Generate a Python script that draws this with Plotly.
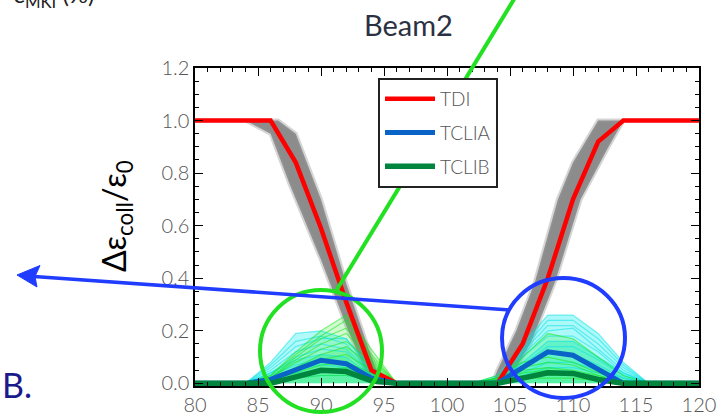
import plotly.graph_objects as go

# ---------------- data ----------------
x_grid = [80, 82, 84, 86, 88, 90, 92, 94, 96, 98, 100, 102, 104, 106, 108, 110, 112, 114, 116, 118, 120]
tdi   = [1, 1, 1, 1, 0.84, 0.59, 0.31, 0.05, 0, 0, 0, 0, 0, 0.15, 0.40, 0.70, 0.92, 1, 1, 1, 1]
tclia = [0, 0, 0, 0.015, 0.05, 0.088, 0.075, 0.02, 0, 0, 0, 0, 0, 0.06, 0.12, 0.107, 0.054, 0, 0, 0, 0]
tclib = [0, 0, 0, 0, 0.025, 0.05, 0.045, 0.01, 0, 0, 0, 0, 0, 0.02, 0.04, 0.038, 0.015, 0, 0, 0, 0]

# grey band of TDI simulations (envelope edges)
band_left_upper_x = [80, 86, 86.6, 88, 90, 92, 94, 94.8]
band_left_upper_y = [1.0, 1.0, 1.0, 0.95, 0.70, 0.38, 0.10, 0.0]
band_left_lower_x = [80, 84, 86, 87.5, 90, 92, 93.5, 94.5]
band_left_lower_y = [1.0, 1.0, 0.95, 0.76, 0.47, 0.22, 0.05, 0.0]
band_right_upper_x = [103.6, 104, 105.5, 107, 108.8, 110, 112, 120]
band_right_upper_y = [0.0, 0.05, 0.20, 0.39, 0.70, 0.84, 1.0, 1.0]
band_right_lower_x = [104.8, 106.7, 108.6, 110.6, 112.7, 114, 120]
band_right_lower_y = [0.0, 0.16, 0.39, 0.70, 0.89, 1.0, 1.0]

# thin simulation lines (left hump)
hump_left_x = [84, 86, 88, 90, 92, 94, 96]
cyan_left = [
    [0, 0.08, 0.19, 0.20, 0.17, 0.05, 0],
    [0, 0.07, 0.16, 0.18, 0.15, 0.04, 0],
    [0, 0.06, 0.14, 0.17, 0.17, 0.06, 0],
    [0, 0.05, 0.12, 0.15, 0.13, 0.04, 0],
    [0, 0.04, 0.10, 0.13, 0.12, 0.03, 0],
    [0, 0.04, 0.09, 0.11, 0.10, 0.03, 0],
    [0, 0.03, 0.07, 0.09, 0.08, 0.02, 0],
    [0, 0.02, 0.05, 0.07, 0.06, 0.02, 0],
    [0, 0.02, 0.04, 0.05, 0.04, 0.01, 0],
    [0, 0.01, 0.02, 0.03, 0.03, 0.01, 0],
]
green_left = [
    [0, 0.03, 0.12, 0.20, 0.26, 0.13, 0],
    [0, 0.03, 0.11, 0.18, 0.24, 0.11, 0],
    [0, 0.02, 0.10, 0.17, 0.21, 0.10, 0],
    [0, 0.02, 0.09, 0.15, 0.19, 0.09, 0],
    [0, 0.02, 0.08, 0.13, 0.16, 0.08, 0],
    [0, 0.01, 0.06, 0.11, 0.14, 0.07, 0],
    [0, 0.01, 0.05, 0.09, 0.11, 0.05, 0],
    [0, 0.01, 0.04, 0.07, 0.08, 0.04, 0],
    [0, 0.00, 0.03, 0.05, 0.06, 0.03, 0],
    [0, 0.00, 0.02, 0.03, 0.03, 0.02, 0],
]
# thin simulation lines (right hump)
hump_right_x = [102, 104, 106, 108, 110, 112, 114, 116]
cyan_right = [
    [0, 0.03, 0.15, 0.26, 0.26, 0.19, 0.08, 0],
    [0, 0.02, 0.13, 0.24, 0.24, 0.17, 0.07, 0],
    [0, 0.02, 0.12, 0.22, 0.22, 0.15, 0.06, 0],
    [0, 0.02, 0.11, 0.20, 0.21, 0.13, 0.05, 0],
    [0, 0.01, 0.10, 0.18, 0.18, 0.12, 0.04, 0],
    [0, 0.01, 0.08, 0.16, 0.16, 0.10, 0.04, 0],
    [0, 0.01, 0.07, 0.14, 0.14, 0.09, 0.03, 0],
    [0, 0.01, 0.06, 0.11, 0.11, 0.07, 0.02, 0],
    [0, 0.00, 0.04, 0.08, 0.08, 0.05, 0.02, 0],
    [0, 0.00, 0.03, 0.06, 0.06, 0.04, 0.01, 0],
]
green_right = [
    [0, 0.02, 0.10, 0.19, 0.17, 0.10, 0.03, 0],
    [0, 0.03, 0.08, 0.10, 0.08, 0.04, 0.01, 0],
    [0, 0.02, 0.06, 0.08, 0.07, 0.03, 0.01, 0],
    [0, 0.02, 0.05, 0.06, 0.05, 0.03, 0.00, 0],
    [0, 0.01, 0.04, 0.05, 0.04, 0.02, 0.00, 0],
    [0, 0.01, 0.03, 0.03, 0.03, 0.01, 0.00, 0],
    [0, 0.00, 0.02, 0.02, 0.02, 0.01, 0.00, 0],
]

legend_names = ["TDI", "TCLIA", "TCLIB"]
x_ticks = [80, 85, 90, 95, 100, 105, 110, 115, 120]
y_ticks = [0.0, 0.2, 0.4, 0.6, 0.8, 1.0, 1.2]

# ---------------- layout geometry (pixels) ----------------
W, H = 726, 420
L, R, T, B = 195, 27, 68, 34
PW, PH = W - L - R, H - T - B


def px(xp):
    return (xp - L) / PW


def py(yp):
    return (H - B - yp) / PH


FONT = "Lato"
GREY_TXT = "#555555"

fig = go.Figure()

# grey bands
for ux, uy, lx, ly in [
    (band_left_upper_x, band_left_upper_y, band_left_lower_x, band_left_lower_y),
    (band_right_upper_x, band_right_upper_y, band_right_lower_x, band_right_lower_y),
]:
    fig.add_trace(go.Scatter(
        x=ux + lx[::-1], y=uy + ly[::-1], fill="toself", mode="lines",
        fillcolor="rgba(128,128,128,0.9)", line=dict(color="rgba(150,150,150,0.4)", width=4),
        showlegend=False, hoverinfo="skip"))

# density fill under the thin lines
for hx, rows, col in [
    (hump_left_x, cyan_left, "rgba(0,235,235,0.30)"),
    (hump_left_x, green_left, "rgba(40,235,40,0.22)"),
    (hump_right_x, cyan_right, "rgba(0,235,235,0.32)"),
    (hump_right_x, green_right, "rgba(40,235,40,0.22)"),
]:
    fig.add_trace(go.Scatter(x=hx, y=rows[0], fill="tozeroy", mode="none",
                             fillcolor=col, showlegend=False, hoverinfo="skip"))
    fig.add_trace(go.Scatter(x=hx, y=rows[len(rows) // 2], fill="tozeroy", mode="none",
                             fillcolor=col, showlegend=False, hoverinfo="skip"))

for hx, rows, col in [
    (hump_left_x, cyan_left, "rgba(0,225,230,0.5)"),
    (hump_left_x, green_left, "rgba(20,230,20,0.5)"),
    (hump_right_x, cyan_right, "rgba(0,225,230,0.5)"),
    (hump_right_x, green_right, "rgba(20,230,20,0.55)"),
]:
    for r in rows:
        fig.add_trace(go.Scatter(x=hx, y=r, mode="lines", line=dict(color=col, width=1.2),
                                 showlegend=False, hoverinfo="skip"))

# main curves
fig.add_trace(go.Scatter(x=x_grid, y=tdi, mode="lines", name=legend_names[0],
                         line=dict(color="#ff0000", width=4.5), legendgroup="a"))
fig.add_trace(go.Scatter(x=x_grid, y=tclia, mode="lines", name=legend_names[1],
                         line=dict(color="#0a64c8", width=5), legendgroup="b"))
fig.add_trace(go.Scatter(x=x_grid, y=tclib, mode="lines", name=legend_names[2],
                         line=dict(color="#00853f", width=5.5), legendgroup="c"))

axis_common = dict(showline=True, linecolor="black", linewidth=1.5, mirror="allticks",
                   ticks="inside", tickcolor="black", ticklen=8, tickwidth=1.3,
                   showgrid=False, zeroline=False, automargin=False,
                   tickfont=dict(family=FONT, size=20, color=GREY_TXT, weight=300))

fig.update_xaxes(range=[80, 120], tickvals=x_ticks, ticktext=[str(v) for v in x_ticks],
                 minor=dict(dtick=1, ticks="inside", ticklen=4, tickcolor="black", tickwidth=1.1),
                 **axis_common)
fig.update_yaxes(range=[-0.01, 1.2], tickvals=y_ticks, ticktext=[f"{v:.1f}" for v in y_ticks],
                 minor=dict(dtick=0.05, tick0=0, ticks="inside", ticklen=4, tickcolor="black", tickwidth=1.1),
                 **axis_common)

GREEN = "#22e022"
BLUE = "#1f3cff"
shapes = [
    # green circle + pointer line
    dict(type="circle", xref="paper", yref="paper", x0=px(260), x1=px(382), y0=py(412), y1=py(290),
         line=dict(color=GREEN, width=4)),
    dict(type="line", xref="paper", yref="paper", x0=px(336), y0=py(291), x1=px(516), y1=py(-4),
         line=dict(color=GREEN, width=4)),
    # blue circle + arrow
    dict(type="circle", xref="paper", yref="paper", x0=px(502), x1=px(625), y0=py(398), y1=py(278),
         line=dict(color=BLUE, width=4)),
    dict(type="line", xref="paper", yref="paper", x0=px(510), y0=py(310), x1=px(34), y1=py(276.5),
         line=dict(color=BLUE, width=3.5)),
    dict(type="path", xref="paper", yref="paper",
         path=f"M {px(17)} {py(275)} L {px(40)} {py(265.5)} L {px(35)} {py(276.5)} L {px(37)} {py(287)} Z",
         fillcolor=BLUE, line=dict(color=BLUE, width=1)),
]

annotations = [
    dict(text="Beam2", xref="paper", yref="paper", x=px(408), y=py(25), xanchor="center", yanchor="middle",
         showarrow=False, font=dict(family=FONT, size=29, color="#2b3142")),
    dict(text="Δε<sub>coll</sub>/ε<sub>0</sub>", xref="paper", yref="paper", x=px(116), y=py(216),
         xanchor="center", yanchor="middle",
         textangle=-90, showarrow=False, font=dict(family=FONT, size=32, color="black")),
    dict(text="B.", xref="paper", yref="paper", x=px(0), y=py(384), xanchor="left", yanchor="middle",
         showarrow=False, font=dict(family=FONT, size=34, color="#1a1a8c")),
    dict(text="ε<sub>MKI</sub> (%)", xref="paper", yref="paper", x=px(12), y=py(14),
         xanchor="left", yanchor="bottom",
         showarrow=False, font=dict(family=FONT, size=24, color="#222222")),
]

fig.update_layout(
    width=W, height=H, margin=dict(l=L, r=R, t=T, b=B, autoexpand=False),
    paper_bgcolor="white", plot_bgcolor="white",
    shapes=shapes, annotations=annotations,
    legend=dict(x=px(378), y=py(78), xanchor="left", yanchor="top",
                bgcolor="white", bordercolor="#222222", borderwidth=2,
                font=dict(family=FONT, size=19, color=GREY_TXT, weight=300),
                itemwidth=50, tracegroupgap=6),
    showlegend=True,
)

fig.write_html("out.html", config={"displayModeBar": False},
               post_script="document.body.style.margin='0';document.body.style.padding='0';")
